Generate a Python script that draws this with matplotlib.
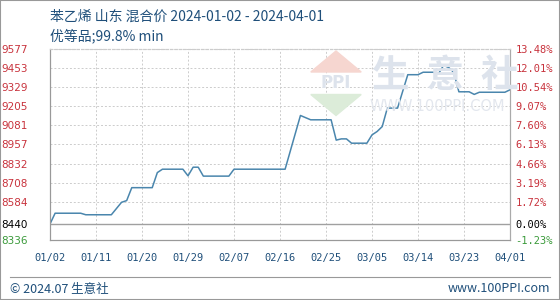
import matplotlib
matplotlib.use("Agg")
import matplotlib.pyplot as plt
import matplotlib.dates as mdates
from matplotlib.patches import Rectangle, Polygon
import pandas as pd

plt.rcParams['font.family'] = ['Noto Sans CJK SC', 'DejaVu Sans']

# price series (only the days where the line changes)
dates = ["2024-01-02", "2024-01-03", "2024-01-08", "2024-01-09", "2024-01-14",
         "2024-01-16", "2024-01-17", "2024-01-18", "2024-01-22", "2024-01-23",
         "2024-01-24", "2024-01-28", "2024-01-29", "2024-01-30", "2024-01-31",
         "2024-02-01", "2024-02-06", "2024-02-07", "2024-02-17", "2024-02-20",
         "2024-02-22", "2024-02-26", "2024-02-27", "2024-02-28", "2024-02-29",
         "2024-03-01", "2024-03-04", "2024-03-05", "2024-03-06", "2024-03-07",
         "2024-03-08", "2024-03-10", "2024-03-12", "2024-03-14", "2024-03-15",
         "2024-03-17", "2024-03-18", "2024-03-19", "2024-03-20", "2024-03-21",
         "2024-03-22", "2024-03-24", "2024-03-25", "2024-03-26", "2024-03-31",
         "2024-04-01"]
prices = [8440, 8510, 8510, 8500, 8500,
          8581, 8592, 8676, 8676, 8774,
          8796, 8796, 8753, 8809, 8809,
          8751, 8751, 8796, 8796, 9145,
          9117, 9117, 8985, 8993, 8993,
          8965, 8965, 9019, 9041, 9073,
          9193, 9193, 9410, 9410, 9426,
          9426, 9416, 9470, 9457, 9425,
          9299, 9299, 9282, 9296, 9296,
          9312]

y_ticks = [8336, 8440, 8584, 8708, 8832, 8957, 9081, 9205, 9329, 9453, 9577]
pct_labels = ["-1.23%", "0.00%", "1.72%", "3.19%", "4.66%", "6.13%",
              "7.60%", "9.07%", "10.54%", "12.01%", "13.48%"]
x_ticks = ["2024-01-02", "2024-01-11", "2024-01-20", "2024-01-29", "2024-02-07",
           "2024-02-16", "2024-02-25", "2024-03-05", "2024-03-14", "2024-03-23",
           "2024-04-01"]

base = 8440
title = "苯乙烯 山东 混合价 2024-01-02 - 2024-04-01"
subtitle = "优等品;99.8% min"

red = "#c8323c"
green = "#3a9a3a"
navy = "#1f4f7a"

d = pd.to_datetime(dates)
xt = pd.to_datetime(x_ticks)

fig = plt.figure(figsize=(5.6, 3.0), dpi=100)
ax = fig.add_axes([50/560, 1-240/300, 460/560, (240-49)/300])

# watermark
fig.text(0.795, 0.75, "生  意  社", fontsize=27, color="#dde3ec",
         ha="center", va="center", fontweight="bold")
fig.text(0.78, 0.645, "WWW.100PPI.COM", fontsize=10.5, color="#e3e7ee",
         ha="center", va="center", family="DejaVu Sans")
fig.patches.append(Polygon([[0.6, 0.83], [0.555, 0.76], [0.645, 0.76]],
                           closed=True, transform=fig.transFigure,
                           color="#f6d6d0", zorder=0))
fig.patches.append(Polygon([[0.555, 0.685], [0.645, 0.685], [0.6, 0.615]],
                           closed=True, transform=fig.transFigure,
                           color="#dcecd9", zorder=0))
fig.text(0.6, 0.722, "PPI", fontsize=12, color="#dde3ec",
         ha="center", va="center", fontweight="bold", family="DejaVu Sans")

ax.set_facecolor("none")
ax.plot(d, prices, color="#4a86ad", linewidth=1.1, zorder=3)
ax.axhline(base, color="#a0a0a0", linewidth=1.0, zorder=2)

ax.set_xlim(xt[0], xt[-1])
ax.set_ylim(y_ticks[0], y_ticks[-1])
ax.set_yticks(y_ticks)
ax.set_xticks(xt)
ax.xaxis.set_major_formatter(mdates.DateFormatter("%m/%d"))
ax.grid(True, color="#cccccc", linestyle=(0, (2, 2)), linewidth=0.7)
ax.tick_params(length=0, labelsize=7.5)
ax.tick_params(axis="x", pad=9, colors=navy)
for lab in ax.get_xticklabels():
    lab.set_family("DejaVu Sans Mono")
    lab.set_fontsize(7.5)

ycols = [green, "black"] + [red] * 9
for lab, c in zip(ax.get_yticklabels(), ycols):
    lab.set_color(c)
    lab.set_family("DejaVu Sans")
ax.tick_params(axis="y", pad=16)

ax2 = ax.twinx()
ax2.set_ylim(ax.get_ylim())
ax2.set_yticks(y_ticks)
ax2.set_yticklabels(pct_labels)
ax2.tick_params(length=0, pad=4, labelsize=7.5)
for lab, c in zip(ax2.get_yticklabels(), ycols):
    lab.set_color(c)
    lab.set_family("DejaVu Sans Mono")

for a in (ax, ax2):
    a.spines["left"].set_color("#999999")
    a.spines["bottom"].set_color("#999999")
    a.spines["right"].set_color("#aaaaaa")
    a.spines["top"].set_color("#cccccc")
    a.spines["top"].set_linestyle((0, (2, 2)))

fig.text(50/560, 1-17/300, title, fontsize=10, color=navy, va="center")
fig.text(50/560, 1-36/300, subtitle, fontsize=10, color=navy, va="center")

# footer
fig.add_artist(plt.Line2D([10/560, 550/560], [1-277/300, 1-277/300],
                          transform=fig.transFigure, color="#999999", linewidth=0.8))
fig.text(10/560, 1-289/300, "© 2024.07 生意社", fontsize=9, color=navy, va="center")
fig.text(550/560, 1-289/300, "www.100PPI.com", fontsize=9, color=navy,
         va="center", ha="right")

fig.patches.append(Rectangle((0, 0), 1, 1, transform=fig.transFigure,
                             fill=False, edgecolor="#999999", linewidth=1.5))

fig.savefig("out.png", dpi=100)
